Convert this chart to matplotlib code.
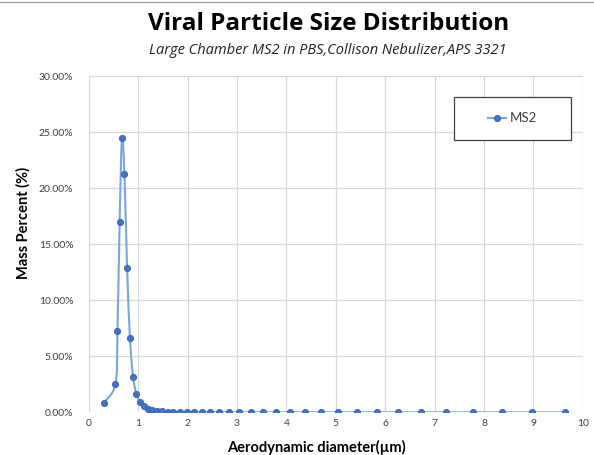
import numpy as np
import matplotlib.pyplot as plt
from matplotlib.path import Path
from matplotlib.patches import PathPatch, Rectangle
from matplotlib.lines import Line2D
from matplotlib.ticker import FuncFormatter

plt.rcParams['font.family'] = ['Lato', 'DejaVu Sans']

# APS 3321 channel midpoints (um) and mass percent
diameter = [0.3, 0.542, 0.583, 0.626, 0.673, 0.723, 0.777, 0.835, 0.898, 0.965,
            1.037, 1.114, 1.197, 1.286, 1.382, 1.486, 1.596, 1.715, 1.843, 1.981,
            2.129, 2.288, 2.458, 2.642, 2.839, 3.051, 3.278, 3.523, 3.786, 4.068,
            4.371, 4.698, 5.048, 5.425, 5.829, 6.264, 6.732, 7.234, 7.774, 8.354,
            8.977, 9.647]
mass_pct = [0.86, 2.53, 7.23, 16.99, 24.5, 21.28, 12.88, 6.63, 3.18, 1.63,
            0.95, 0.55, 0.33, 0.21, 0.14, 0.10, 0.07, 0.05, 0.04, 0.03,
            0.025, 0.02, 0.015, 0.012, 0.01, 0.008, 0.006, 0.005, 0.004, 0.003,
            0.003, 0.002, 0.002, 0.001, 0.001, 0.001, 0.001, 0.0, 0.0, 0.0,
            0.0, 0.0]
series_name = "MS2"

line_col = "#7aa6dc"
dot_col = "#4472c4"
grid_col = "#d9d9d9"
text_col = "#404040"

fig = plt.figure(figsize=(5.94, 4.55), dpi=100)
ax = fig.add_axes([0.1493, 0.0938, 0.832, 0.7385])

# smoothed line like Excel (Catmull-Rom -> cubic bezier)
x = np.array(diameter)
y = np.array(mass_pct)
verts = [(x[0], y[0])]
codes = [Path.MOVETO]
n = len(x)
for i in range(n - 1):
    p0 = np.array([x[max(i - 1, 0)], y[max(i - 1, 0)]])
    p1 = np.array([x[i], y[i]])
    p2 = np.array([x[i + 1], y[i + 1]])
    p3 = np.array([x[min(i + 2, n - 1)], y[min(i + 2, n - 1)]])
    c1 = p1 + (p2 - p0) / 6
    c2 = p2 - (p3 - p1) / 6
    verts += [tuple(c1), tuple(c2), tuple(p2)]
    codes += [Path.CURVE4] * 3
ax.add_patch(PathPatch(Path(verts, codes), facecolor='none', edgecolor=line_col,
                       lw=1.5, zorder=3))
ax.plot(x, y, ls='none', marker='o', ms=4.5, mfc=dot_col, mec="#3a62a8",
        mew=0.6, zorder=4)

ax.set_xlim(0, 10)
ax.set_ylim(0, 30)
ax.set_xticks(range(0, 11))
ax.set_yticks(np.arange(0, 31, 5))
ax.yaxis.set_major_formatter(FuncFormatter(lambda v, p: f"{v:.2f}%"))
ax.grid(True, color=grid_col, lw=0.9)
ax.set_axisbelow(True)
for s in ax.spines.values():
    s.set_visible(False)
ax.tick_params(length=0, labelsize=7.5, labelcolor=text_col)
ax.tick_params(axis='y', pad=11)
ax.tick_params(axis='x', pad=5)
for lb in ax.get_xticklabels() + ax.get_yticklabels():
    lb.set_clip_on(False)

# thin frame line along the top of the image
fig.add_artist(Line2D([0, 1], [0.996, 0.996], transform=fig.transFigure,
                      color='#a6a6a6', lw=1))

fig.text(0.554, 0.934, "Viral Particle Size Distribution", ha='center',
         va='baseline', fontsize=17.5, fontweight='bold', color='black',
         family=['Open Sans', 'DejaVu Sans'])
fig.text(0.551, 0.881, "Large Chamber MS2 in PBS,Collison Nebulizer,APS 3321",
         ha='center', va='baseline', fontsize=10.5, style='italic',
         color='#222222', family=['Open Sans', 'DejaVu Sans'])
fig.text(0.532, 0.017, "Aerodynamic diameter(\u00b5m)", ha='center',
         va='center', fontsize=10.5, fontweight='bold')
fig.text(0.039, 0.51, "Mass Percent (%)", ha='center', va='center',
         rotation=90, fontsize=10.5, fontweight='bold')

# legend box
fig.add_artist(Rectangle((0.7648, 0.6916), 0.196, 0.0958,
                         transform=fig.transFigure, facecolor='white',
                         edgecolor='#404040', lw=0.9, zorder=5))
h = Line2D([], [], color=line_col, lw=1.5, marker='o', ms=4.5, mfc=dot_col,
           mec="#3a62a8", mew=0.6)
leg = fig.legend([h], [series_name], loc='center',
                 bbox_to_anchor=(0.8628, 0.7396), frameon=False,
                 fontsize=9.5, handlelength=1.4, handletextpad=0.3)
leg.set_zorder(6)
for t in leg.get_texts():
    t.set_color(text_col)

fig.savefig("out.png", dpi=100)
